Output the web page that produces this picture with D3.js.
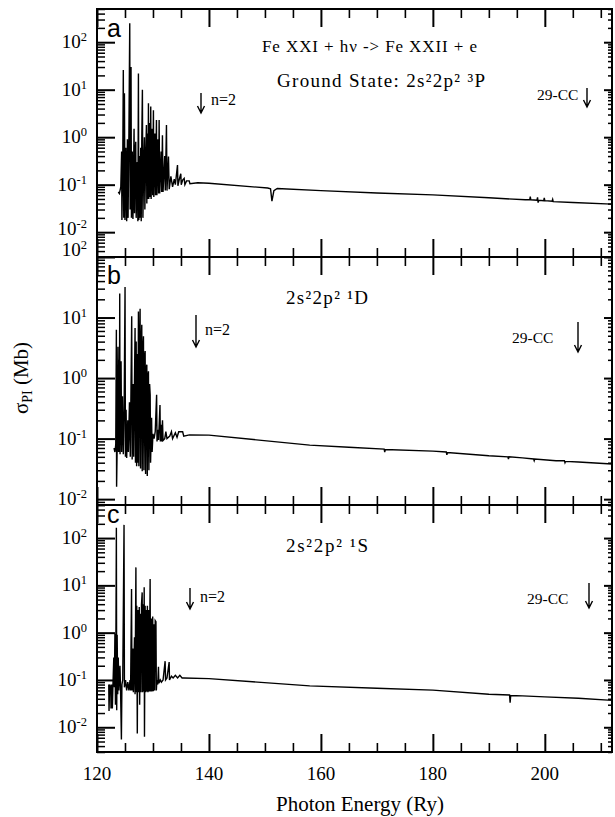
<!DOCTYPE html>
<html>
<head>
<meta charset="utf-8">
<script src="https://cdn.jsdelivr.net/npm/d3@7"></script>
<style>
body{margin:0;background:#fff;}
svg text{font-family:"Liberation Serif","Times New Roman",serif;fill:#000;}
</style>
</head>
<body>
<div class="chart"></div>
<script>
/*Data: [photon energy (Ry), sigma (Mb)]*/

const spectrumA = [
 [123.8,0.07],[124.0,0.065],[124.25,0.09],[124.4,0.5],[124.45,0.018],[124.6,0.3],[124.7,26],[124.78,0.02],
 [124.9,8.4],[125.0,0.018],[125.15,0.6],[125.3,0.017],[125.43,0.9],[125.55,0.02],[125.7,1.2],[125.85,250],
 [125.92,0.03],[126.08,30],[126.15,0.02],[126.3,0.5],[126.42,0.019],[126.62,1.5],[126.7,0.025],[126.8,0.4],
 [126.92,0.8],[127.0,0.02],[127.2,0.3],[127.3,0.017],[127.4,22],[127.47,0.018],[127.6,0.4],[127.7,0.02],
 [127.81,0.6],[127.9,0.017],[128.0,0.9],[128.11,10],[128.2,0.02],[128.35,0.3],[128.47,1.0],[128.55,0.03],
 [128.7,0.4],[128.83,1.8],[128.9,0.04],[129.0,1.2],[129.1,0.05],[129.19,5.2],[129.25,0.05],[129.4,2.0],
 [129.5,0.055],[129.6,4.4],[129.67,0.05],[129.85,1.5],[129.95,0.06],[130.08,3.7],[130.15,0.055],[130.35,1.2],
 [130.45,0.06],[130.62,2.3],[130.7,0.06],[130.9,0.9],[131.0,0.065],[131.1,2.3],[131.2,0.065],[131.45,0.5],
 [131.55,0.07],[131.69,1.1],[131.8,0.07],[132.1,0.4],[132.2,0.075],[132.41,1.8],[132.5,0.075],[132.77,0.39],
 [132.9,0.08],[133.2,0.15],[133.5,0.09],[133.8,0.13],[134.0,0.1],[134.38,0.26],[134.45,0.095],[134.7,0.13],
 [134.97,0.17],[135.05,0.1],[135.3,0.125],[135.57,0.136],[135.7,0.1],[136.0,0.12],[136.47,0.12],[136.6,0.105],
 [138,0.11],[140,0.107],[150.5,0.085],[151.0,0.082],[151.25,0.045],[151.6,0.075],[152.2,0.083],[160,0.075],
 [170,0.067],[180,0.061],[190,0.053],[196.5,0.048],[197.3,0.048],[197.4,0.056],[197.5,0.048],[198.6,0.047],
 [198.7,0.054],[198.8,0.042],[198.9,0.047],[199.8,0.046],[199.9,0.053],[200.0,0.046],[201.3,0.045],[201.4,0.049],
 [201.5,0.044],[205,0.042],[212,0.039]
];

const spectrumB = [
 [123.04,0.07],[123.2,0.06],[123.35,0.08],[123.46,6.3],[123.5,0.016],[123.6,0.07],[123.75,3.3],[123.85,0.06],
 [123.95,2.0],[124.0,0.06],[124.06,25],[124.12,0.055],[124.3,1.9],[124.4,0.06],[124.55,0.5],[124.7,0.055],
 [124.85,0.3],[125.01,32],[125.08,0.05],[125.2,0.3],[125.3,0.048],[125.5,0.2],[125.6,0.06],[125.8,0.4],
 [125.95,0.05],[126.2,10.5],[126.28,0.045],[126.45,0.8],[126.55,0.05],[126.8,6.7],[126.87,0.04],[127.0,4.0],
 [127.08,0.035],[127.2,2.5],[127.3,0.04],[127.4,12.6],[127.48,0.035],[127.6,3],[127.7,14],[127.78,0.032],
 [127.9,4],[128.0,7.6],[128.08,0.029],[128.2,3],[128.3,4.9],[128.38,0.03],[128.5,2.2],[128.6,2.8],
 [128.68,0.026],[128.8,1.5],[128.9,1.66],[128.98,0.024],[129.1,1.0],[129.19,1.29],[129.27,0.03],[129.4,0.8],
 [129.5,0.53],[129.57,0.04],[129.75,0.22],[129.85,0.06],[130.0,0.12],[130.2,0.1],[130.4,0.13],[130.65,0.53],
 [130.72,0.09],[130.9,0.14],[131.0,0.095],[131.25,0.36],[131.32,0.09],[131.45,0.17],[131.55,0.09],[131.7,0.2],
 [131.8,0.093],[132.1,0.1],[132.3,0.13],[132.5,0.1],[133.0,0.11],[133.3,0.13],[133.5,0.1],[134.0,0.125],
 [134.3,0.105],[134.6,0.13],[135.3,0.13],[135.5,0.11],[136.5,0.115],[140,0.114],[158,0.078],[165,0.072],
 [171.3,0.067],[171.4,0.06],[171.5,0.066],[180,0.062],[182.4,0.06],[182.5,0.054],[182.6,0.059],[190,0.052],
 [193.4,0.05],[193.5,0.046],[193.6,0.05],[196,0.048],[198,0.046],[198.1,0.043],[198.2,0.046],[202,0.043],
 [203.5,0.043],[203.6,0.04],[203.7,0.042],[206,0.041],[212,0.038]
];

const spectrumC = [
 [122.1,0.08],[122.15,0.022],[122.25,0.08],[122.45,0.07],[122.5,0.025],[122.6,0.08],[122.74,0.025],[122.85,0.08],
 [123.0,0.3],[123.1,0.07],[123.2,0.95],[123.3,0.03],[123.38,0.9],[123.46,166],[123.52,0.023],[123.6,0.9],
 [123.7,0.05],[123.8,0.3],[123.9,0.06],[124.1,0.2],[124.2,0.07],[124.36,0.0055],[124.45,0.08],[124.6,0.1],
 [124.83,190],[124.9,0.07],[125.1,0.1],[125.3,0.06],[125.5,0.09],[125.7,0.06],[125.9,0.1],[126.0,0.06],
 [126.17,8.4],[126.25,0.06],[126.4,0.46],[126.5,0.055],[126.7,0.8],[126.8,0.05],[126.95,24],[127.02,0.055],
 [127.1,3.7],[127.2,0.0074],[127.3,3.0],[127.4,0.055],[127.55,3.5],[127.62,0.03],[127.75,2.5],[127.85,0.055],
 [127.95,4],[128.07,7.1],[128.14,0.055],[128.25,4],[128.35,0.057],[128.43,9.1],[128.48,0.0063],[128.6,3.7],
 [128.7,0.055],[128.8,3],[128.9,0.057],[129.0,3.7],[129.1,0.055],[129.25,3],[129.35,0.057],[129.49,13.6],
 [129.56,0.057],[129.7,2.0],[129.8,0.057],[129.95,2.2],[130.05,0.058],[130.2,1.5],[130.3,0.06],[130.4,1.8],
 [130.53,1.7],[130.6,0.06],[130.7,0.1],[130.85,0.08],[130.98,0.19],[131.05,0.085],[131.3,0.1],[131.5,0.09],
 [131.8,0.1],[132.17,0.25],[132.25,0.1],[132.5,0.11],[132.89,0.24],[132.95,0.1],[133.3,0.12],[133.6,0.11],
 [134.0,0.125],[134.4,0.11],[134.8,0.125],[135.2,0.11],[135.5,0.11],[140,0.107],[158,0.075],[170,0.067],
 [180,0.061],[190,0.05],[193.7,0.048],[193.8,0.033],[193.9,0.047],[196,0.046],[200,0.044],[206,0.041],[212,0.037]
];

const panelLetters = ["a", "b", "c"];
const stateLabels = ["Ground State: 2s\u00b22p\u00b2 \u00b3P", "2s\u00b22p\u00b2 \u00b9D", "2s\u00b22p\u00b2 \u00b9S"];
const reactionLabel = "Fe XXI + h\u03bd -> Fe XXII + e";
const yRanges = [[0.003, 500], [0.008, 100], [0.003, 500]];
const decadeLabels = [2, 1, 0, -1, -2];
const xTickLabels = [120, 140, 160, 180, 200];
const xRange = [120, 212];

/*Layout*/

const W = 615, H = 817;
const plotL = 97, plotR = 612;
const panelBox = [{top: 9, bottom: 257}, {top: 257, bottom: 505}, {top: 505, bottom: 752}];
const spectra = [spectrumA, spectrumB, spectrumC];

/* annotation placement per panel (pixels) */
const notes = [
  {state: [277, 87, 208, 19], n2: [201, 93, 113], n2text: [211, 105], cc: [537, 100], ccArrow: [587, 88, 107]},
  {state: [286, 304, 82, 19], n2: [196, 315, 347], n2text: [205, 335], cc: [512, 343], ccArrow: [578, 322, 352]},
  {state: [286, 552, 82, 19], n2: [190, 588, 609], n2text: [200, 602], cc: [527, 604], ccArrow: [589, 583, 608]}
];

const svg = d3.select(".chart").append("svg")
  .attr("width", W)
  .attr("height", H);

const xScale = d3.scaleLinear().domain(xRange).range([plotL, plotR]);
const xMinor = [125, 130, 135, 145, 150, 155, 165, 170, 175, 185, 190, 195, 205, 210];

/* inward ticks through d3's axis generator; labels are drawn separately */
function tickAxis(axis, tx, ty, len, sw) {
  svg.append("g")
    .attr("transform", `translate(${tx},${ty})`)
    .attr("color", "#000")
    .call(axis.tickSize(-len).tickFormat(""))
    .call(a => a.select(".domain").remove())
    .call(a => a.selectAll("line").attr("stroke", "#000").attr("stroke-width", sw));
}

panelBox.forEach((box, i) => {
  const yScale = d3.scaleLog().domain(yRanges[i]).range([box.bottom, box.top]);
  const all = yScale.ticks();
  const majors = all.filter(v => Math.abs(Math.log10(v) - Math.round(Math.log10(v))) < 1e-9);
  const minors = all.filter(v => majors.indexOf(v) < 0);

  /*spectrum*/
  const line = d3.line()
    .x(d => xScale(d[0]))
    .y(d => Math.max(box.top, Math.min(box.bottom, yScale(d[1]))));

  svg.append("path")
    .datum(spectra[i])
    .attr("d", line)
    .attr("fill", "none")
    .attr("stroke", "#000")
    .attr("stroke-width", 1.4);

  tickAxis(d3.axisLeft(yScale).tickValues(majors), plotL, 0, 18, 2);
  tickAxis(d3.axisLeft(yScale).tickValues(minors), plotL, 0, 8, 1.5);
  tickAxis(d3.axisRight(yScale).tickValues(majors), plotR, 0, 8, 2);
  tickAxis(d3.axisRight(yScale).tickValues(minors), plotR, 0, 4, 1.5);
  tickAxis(d3.axisTop(xScale).tickValues(xTickLabels), 0, box.top, 18, 2);
  tickAxis(d3.axisTop(xScale).tickValues(xMinor), 0, box.top, 9, 1.6);
  tickAxis(d3.axisBottom(xScale).tickValues(xTickLabels), 0, box.bottom, 18, 2);
  tickAxis(d3.axisBottom(xScale).tickValues(xMinor), 0, box.bottom, 9, 1.6);

  svg.append("rect")
    .attr("x", plotL).attr("y", box.top)
    .attr("width", plotR - plotL).attr("height", box.bottom - box.top)
    .attr("fill", "none")
    .attr("stroke", "#000")
    .attr("stroke-width", 2);

  /*decade labels 10^n*/
  decadeLabels.forEach(q => {
    const v = Math.pow(10, q);
    if (v < yRanges[i][0] || v > yRanges[i][1]) return;
    let yy = yScale(v) + 6;
    if (i === 0 && q === -2) yy = yScale(v) + 3;
    if (i === 1 && q === 2) yy = yScale(v) - 1;
    const t = svg.append("text")
      .attr("x", plotL - 10)
      .attr("y", yy)
      .attr("text-anchor", "end")
      .style("font-size", "19px");
    t.append("tspan").text("10");
    t.append("tspan").attr("dy", -7).style("font-size", "12.5px").text(q < 0 ? "-" + (-q) : q);
  });

  /*panel letter*/
  svg.append("text")
    .attr("x", plotL + 10)
    .attr("y", [37, 284, 523][i])
    .style("font-family", "'Liberation Sans', Arial, sans-serif")
    .style("font-size", "25px")
    .text(panelLetters[i]);

  const n = notes[i];

  svg.append("text")
    .attr("x", n.state[0]).attr("y", n.state[1])
    .attr("textLength", n.state[2])
    .attr("lengthAdjust", "spacing")
    .style("font-size", n.state[3] + "px")
    .text(stateLabels[i]);

  svg.append("text")
    .attr("x", n.n2text[0]).attr("y", n.n2text[1])
    .style("font-size", "16px")
    .text("n=2");

  svg.append("text")
    .attr("x", n.cc[0]).attr("y", n.cc[1])
    .style("font-size", "15.5px")
    .text("29-CC");

  [n.n2, n.ccArrow].forEach(a => {
    svg.append("path")
      .attr("d", `M${a[0]},${a[1]}V${a[2]}M${a[0] - 3.5},${a[2] - 7}L${a[0]},${a[2]}L${a[0] + 3.5},${a[2] - 7}`)
      .attr("fill", "none")
      .attr("stroke", "#000")
      .attr("stroke-width", 1.4);
  });
});

svg.append("text")
  .attr("x", 262).attr("y", 52)
  .attr("textLength", 215)
  .attr("lengthAdjust", "spacing")
  .style("font-size", "17px")
  .text(reactionLabel);

/*x tick labels*/
svg.selectAll(".xlab")
  .data(xTickLabels)
  .enter()
  .append("text")
  .attr("class", "xlab")
  .attr("x", d => xScale(d))
  .attr("y", 780)
  .attr("text-anchor", "middle")
  .style("font-size", "19px")
  .text(d => d);

svg.append("text")
  .attr("x", 360)
  .attr("y", 811)
  .attr("text-anchor", "middle")
  .style("font-size", "21px")
  .text("Photon Energy (Ry)");

const yt = svg.append("text")
  .attr("transform", "translate(28,378) rotate(-90)")
  .attr("text-anchor", "middle")
  .style("font-size", "21px");
yt.append("tspan").text("\u03c3");
yt.append("tspan").attr("dy", 4).style("font-size", "14px").text("PI");
yt.append("tspan").attr("dy", -4).text(" (Mb)");
</script>
</body>
</html>
